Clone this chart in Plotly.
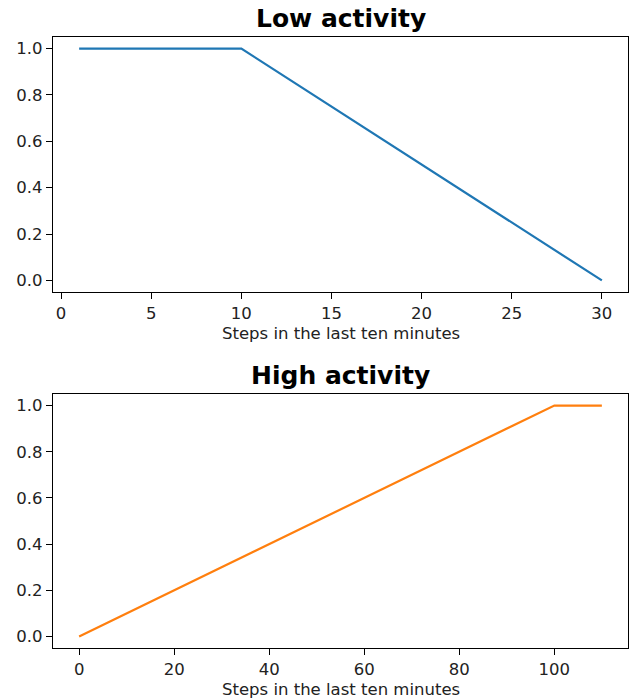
import plotly.graph_objects as go

# Data
low_x = [1, 10, 30]
low_y = [1.0, 1.0, 0.0]
high_x = [0, 100, 110]
high_y = [0.0, 1.0, 1.0]

low_xticks = [0, 5, 10, 15, 20, 25, 30]
high_xticks = [0, 20, 40, 60, 80, 100]
yticks = [0.0, 0.2, 0.4, 0.6, 0.8, 1.0]

titles = ["Low activity", "High activity"]
xlabel = "Steps in the last ten minutes"

W, H = 635, 700
xdom = [53 / W, 628 / W]
top_dom = [1 - 292 / H, 1 - 37 / H]
bot_dom = [1 - 648 / H, 1 - 394 / H]

FONT = "DejaVu Sans"
fs = 16.5

fig = go.Figure()
fig.add_trace(go.Scatter(x=low_x, y=low_y, mode="lines",
                         line=dict(color="#1f77b4", width=2.2),
                         xaxis="x", yaxis="y", showlegend=False))
fig.add_trace(go.Scatter(x=high_x, y=high_y, mode="lines",
                         line=dict(color="#ff7f0e", width=2.2),
                         xaxis="x2", yaxis="y2", showlegend=False))

def pad(lo, hi):
    m = (hi - lo) * 0.05
    return [lo - m, hi + m]

common_axis = dict(showline=True, mirror=True, linecolor="black", linewidth=1.2,
                   showgrid=False, zeroline=False, ticks="outside", ticklen=6,
                   tickwidth=1.2, tickcolor="black", automargin=False,
                   tickfont=dict(family=FONT, size=fs, color="#222"))

fig.update_layout(
    width=W, height=H,
    margin=dict(l=0, r=0, t=0, b=0),
    paper_bgcolor="white", plot_bgcolor="white",
    font=dict(family=FONT, size=fs, color="#222"),
    xaxis=dict(domain=xdom, anchor="y", range=pad(min(low_x), max(low_x)),
               tickvals=low_xticks, **common_axis),
    yaxis=dict(domain=top_dom, anchor="x", range=pad(0, 1), tickvals=yticks,
               tickformat=".1f", **common_axis),
    xaxis2=dict(domain=xdom, anchor="y2", range=pad(min(high_x), max(high_x)),
                tickvals=high_xticks, **common_axis),
    yaxis2=dict(domain=bot_dom, anchor="x2", range=pad(0, 1), tickvals=yticks,
                tickformat=".1f", **common_axis),
)

for t, dom in zip(titles, [top_dom, bot_dom]):
    fig.add_annotation(text="<b>" + t + "</b>", xref="paper", yref="paper",
                       x=(xdom[0] + xdom[1]) / 2, y=dom[1], xanchor="center",
                       yanchor="bottom", yshift=2, showarrow=False,
                       font=dict(family=FONT, size=25, color="black"))
    fig.add_annotation(text=xlabel, xref="paper", yref="paper",
                       x=(xdom[0] + xdom[1]) / 2, y=dom[0], xanchor="center",
                       yanchor="top", yshift=-30, showarrow=False,
                       font=dict(family=FONT, size=fs, color="#222"))

fig.write_html("out.html", config={"displayModeBar": False},
               post_script="document.body.style.margin='0';document.body.style.padding='0';")
